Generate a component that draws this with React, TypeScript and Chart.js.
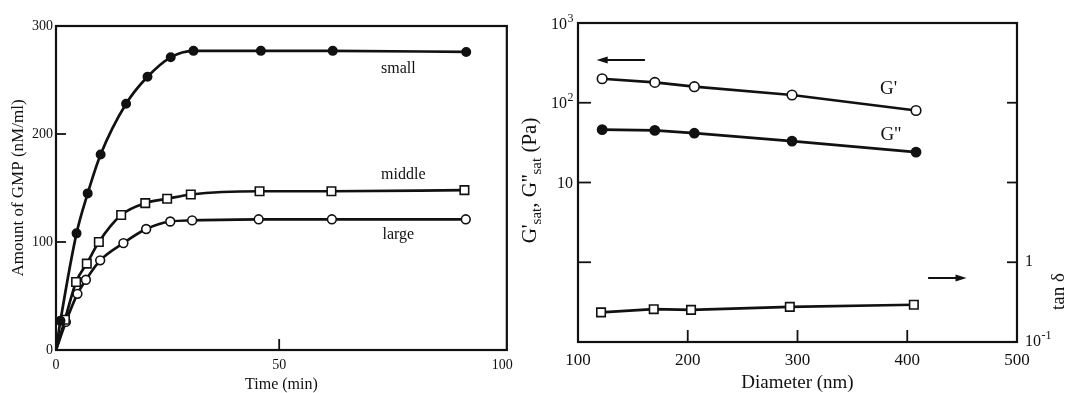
import React, { useEffect, useRef } from "react";
import { Chart, registerables } from "chart.js";

Chart.register(...registerables);

const FONT = "'Liberation Serif', 'Times New Roman', serif";
const INK = "#111";

// ---- Left panel: GMP released vs. time for three micelle sizes ----
const smallTime = [0, 1, 4.6, 7.1, 10, 15.7, 20.5, 25.7, 30.8, 45.9, 62, 91.9];
const smallGmp = [0, 27, 108, 145, 181, 228, 253, 271, 277, 277, 277, 276];
const middleTime = [0, 2, 4.5, 6.9, 9.6, 14.6, 20, 24.9, 30.2, 45.6, 61.7, 91.5];
const middleGmp = [0, 28, 63, 80, 100, 125, 136, 140, 144, 147, 147, 148];
const largeTime = [0, 2.2, 4.8, 6.7, 9.9, 15.1, 20.2, 25.6, 30.5, 45.4, 61.8, 91.8];
const largeGmp = [0, 26, 52, 65, 83, 99, 112, 119, 120, 121, 121, 121];
const seriesNames = ["small", "middle", "large"];
const timeTicks = [0, 50, 100];
const gmpTicks = [0, 100, 200, 300];

// ---- Right panel: saturated moduli and tan delta vs. diameter ----
const diameters = [122, 170, 206, 295, 408];
const gPrime = [200, 180, 159, 125, 80];
const gDoublePrime = [46, 45, 41.5, 33, 24];
const tanDiameters = [121, 169, 203, 293, 406];
const tanDelta = [0.235, 0.258, 0.253, 0.276, 0.293];
const diameterTicks = [100, 200, 300, 400, 500];
const modulusTicks = [0.1, 1, 10, 100, 1000];
const modulusLabels = [
  { value: 1000, base: "10", exp: "3" },
  { value: 100, base: "10", exp: "2" },
  { value: 10, base: "10", exp: "" },
];
const tanLabels = [
  { value: 1, base: "1", exp: "" },
  { value: 0.1, base: "10", exp: "-1" },
];

type Pt = { x: number; y: number };
const zip = (xs: number[], ys: number[]): Pt[] => xs.map((x, i) => ({ x, y: ys[i] }));

type TickMark = { scale: string; side: "bottom" | "left" | "right"; values: number[]; len: number };

// Draws the closed frame around the plot and inward-pointing tick marks.
function framePlugin(marks: TickMark[]) {
  return {
    id: "frame",
    afterDraw(chart: any) {
      const { ctx, chartArea: a } = chart;
      ctx.save();
      ctx.strokeStyle = INK;
      ctx.lineWidth = 2.2;
      ctx.strokeRect(a.left, a.top, a.right - a.left, a.bottom - a.top);
      ctx.lineWidth = 1.8;
      for (const m of marks) {
        const s = chart.scales[m.scale];
        for (const v of m.values) {
          const p = s.getPixelForValue(v);
          ctx.beginPath();
          if (m.side === "bottom") {
            ctx.moveTo(p, a.bottom);
            ctx.lineTo(p, a.bottom - m.len);
          } else if (m.side === "left") {
            ctx.moveTo(a.left, p);
            ctx.lineTo(a.left + m.len, p);
          } else {
            ctx.moveTo(a.right, p);
            ctx.lineTo(a.right - m.len, p);
          }
          ctx.stroke();
        }
      }
      ctx.restore();
    },
  };
}

type Note = { text: string; x: number; y: number; size: number };

function notesPlugin(notes: Note[], xId: string, yId: string) {
  return {
    id: "notes",
    afterDatasetsDraw(chart: any) {
      const { ctx } = chart;
      const xs = chart.scales[xId];
      const ys = chart.scales[yId];
      ctx.save();
      ctx.fillStyle = INK;
      ctx.textAlign = "center";
      ctx.textBaseline = "middle";
      for (const n of notes) {
        ctx.font = `${n.size}px ${FONT}`;
        ctx.fillText(n.text, xs.getPixelForValue(n.x), ys.getPixelForValue(n.y));
      }
      ctx.restore();
    },
  };
}

function drawPower(ctx: CanvasRenderingContext2D, base: string, exp: string, x: number, y: number, align: "left" | "right", size: number) {
  const supSize = Math.round(size * 0.72);
  ctx.font = `${size}px ${FONT}`;
  const wb = ctx.measureText(base).width;
  ctx.font = `${supSize}px ${FONT}`;
  const we = exp ? ctx.measureText(exp).width : 0;
  const x0 = align === "right" ? x - wb - we : x;
  ctx.textAlign = "left";
  ctx.textBaseline = "middle";
  ctx.font = `${size}px ${FONT}`;
  ctx.fillText(base, x0, y);
  if (exp) {
    ctx.font = `${supSize}px ${FONT}`;
    ctx.fillText(exp, x0 + wb + 0.5, y - size * 0.38);
  }
}

type Part = { t: string; sub?: boolean };

function drawRotated(ctx: CanvasRenderingContext2D, parts: Part[], cx: number, cy: number, size: number) {
  const subSize = Math.round(size * 0.72);
  const widths = parts.map((p) => {
    ctx.font = `${p.sub ? subSize : size}px ${FONT}`;
    return ctx.measureText(p.t).width;
  });
  const total = widths.reduce((s, w) => s + w, 0);
  ctx.save();
  ctx.translate(cx, cy);
  ctx.rotate(-Math.PI / 2);
  ctx.textAlign = "left";
  ctx.textBaseline = "middle";
  let x = -total / 2;
  parts.forEach((p, i) => {
    ctx.font = `${p.sub ? subSize : size}px ${FONT}`;
    ctx.fillText(p.t, x, p.sub ? size * 0.32 : 0);
    x += widths[i];
  });
  ctx.restore();
}

function drawArrow(ctx: CanvasRenderingContext2D, x1: number, y1: number, x2: number, y2: number) {
  const dir = Math.sign(x2 - x1);
  const head = 11;
  ctx.beginPath();
  ctx.moveTo(x1, y1);
  ctx.lineTo(x2 - dir * head * 0.6, y2);
  ctx.stroke();
  ctx.beginPath();
  ctx.moveTo(x2, y2);
  ctx.lineTo(x2 - dir * head, y2 - 3.5);
  ctx.lineTo(x2 - dir * head, y2 + 3.5);
  ctx.closePath();
  ctx.fill();
}

// Arrows pointing to the axis each group of curves belongs to (data coordinates).
const modulusArrow = { from: 161, to: 117, at: 344 };
const tanArrow = { from: 419, to: 454, at: 0.635 };

const rightDecor = {
  id: "rightDecor",
  afterDraw(chart: any) {
    const { ctx, chartArea: a } = chart;
    const x = chart.scales.x;
    const y = chart.scales.y;
    const y2 = chart.scales.y2;
    ctx.save();
    ctx.fillStyle = INK;
    ctx.strokeStyle = INK;
    for (const l of modulusLabels) drawPower(ctx, l.base, l.exp, a.left - 5, y.getPixelForValue(l.value) + 1.5, "right", 16);
    for (const l of tanLabels) drawPower(ctx, l.base, l.exp, a.right + 8, y2.getPixelForValue(l.value), "left", 16);
    drawRotated(
      ctx,
      [{ t: "G'" }, { t: "sat", sub: true }, { t: ", G''" }, { t: "sat", sub: true }, { t: " (Pa)" }],
      a.left - 48,
      (a.top + a.bottom) / 2 - 2,
      21
    );
    drawRotated(ctx, [{ t: "tan δ" }], a.right + 42, y2.getPixelForValue(0.43), 19);
    ctx.lineWidth = 2;
    drawArrow(ctx, x.getPixelForValue(modulusArrow.from), y.getPixelForValue(modulusArrow.at), x.getPixelForValue(modulusArrow.to), y.getPixelForValue(modulusArrow.at));
    drawArrow(ctx, x.getPixelForValue(tanArrow.from), y2.getPixelForValue(tanArrow.at), x.getPixelForValue(tanArrow.to), y2.getPixelForValue(tanArrow.at));
    ctx.restore();
  },
};

const hideFirst = (r: number) => (c: any) => (c.dataIndex === 0 ? 0 : r);

function leftConfig(): any {
  const base = {
    borderColor: INK,
    borderWidth: 2.7,
    pointBorderColor: INK,
    pointBorderWidth: 1.6,
    cubicInterpolationMode: "monotone",
  };
  return {
    type: "line",
    data: {
      datasets: [
        { ...base, label: seriesNames[0], data: zip(smallTime, smallGmp), pointStyle: "circle", pointRadius: hideFirst(4.2), pointBackgroundColor: INK },
        { ...base, label: seriesNames[1], data: zip(middleTime, middleGmp), pointStyle: "rect", pointRadius: hideFirst(6), pointBackgroundColor: "#fff" },
        { ...base, label: seriesNames[2], data: zip(largeTime, largeGmp), pointStyle: "circle", pointRadius: hideFirst(4.4), pointBackgroundColor: "#fff" },
      ],
    },
    options: {
      responsive: false,
      animation: false,
      layout: { padding: { top: 26, right: 13, left: 0, bottom: 0 } },
      plugins: { legend: { display: false }, tooltip: { enabled: false } },
      scales: {
        x: {
          type: "linear",
          min: 0,
          max: 101,
          afterBuildTicks: (s: any) => {
            s.ticks = timeTicks.map((v) => ({ value: v }));
          },
          afterFit: (s: any) => {
            s.height = 43;
          },
          grid: { display: false, drawTicks: false },
          border: { display: false },
          ticks: { color: INK, font: { family: FONT, size: 14 }, padding: 7, maxRotation: 0, autoSkip: false },
          title: { display: true, text: "Time (min)", color: INK, font: { family: FONT, size: 16, lineHeight: 1 }, padding: 0 },
        },
        y: {
          type: "linear",
          min: 0,
          max: 300,
          afterBuildTicks: (s: any) => {
            s.ticks = gmpTicks.map((v) => ({ value: v }));
          },
          afterFit: (s: any) => {
            s.width = 56;
          },
          grid: { display: false, drawTicks: false },
          border: { display: false },
          ticks: { color: INK, font: { family: FONT, size: 14 }, padding: 3 },
          title: { display: true, text: "Amount of GMP (nM/ml)", color: INK, font: { family: FONT, size: 17, lineHeight: 1 }, padding: { top: 10, bottom: 0 } },
        },
      },
    },
    plugins: [
      framePlugin([
        { scale: "x", side: "bottom", values: [50], len: 11 },
        { scale: "y", side: "left", values: [100, 200], len: 10 },
      ]),
      notesPlugin(
        [
          { text: seriesNames[0], x: 76.7, y: 260, size: 16 },
          { text: seriesNames[1], x: 77.8, y: 162, size: 16 },
          { text: seriesNames[2], x: 76.7, y: 107, size: 16 },
        ],
        "x",
        "y"
      ),
    ],
  };
}

function rightConfig(): any {
  const base = {
    borderColor: INK,
    borderWidth: 2.7,
    pointBorderColor: INK,
    pointBorderWidth: 1.6,
    tension: 0,
  };
  const hiddenLog = (width: number, position: string) => ({
    type: "logarithmic",
    position,
    min: 0.1,
    max: 1000,
    afterBuildTicks: (s: any) => {
      s.ticks = modulusTicks.map((v) => ({ value: v }));
    },
    afterFit: (s: any) => {
      s.width = width;
    },
    grid: { display: false, drawTicks: false },
    border: { display: false },
    ticks: { display: false },
  });
  return {
    type: "line",
    data: {
      datasets: [
        { ...base, label: "G'", yAxisID: "y", data: zip(diameters, gPrime), pointStyle: "circle", pointRadius: 4.8, pointBackgroundColor: "#fff" },
        { ...base, label: "G''", yAxisID: "y", data: zip(diameters, gDoublePrime), pointStyle: "circle", pointRadius: 4.6, pointBackgroundColor: INK },
        { ...base, label: "tan δ", yAxisID: "y2", data: zip(tanDiameters, tanDelta), pointStyle: "rect", pointRadius: 6, pointBackgroundColor: "#fff" },
      ],
    },
    options: {
      responsive: false,
      animation: false,
      layout: { padding: { top: 23, right: 0, left: 0, bottom: 0 } },
      plugins: { legend: { display: false }, tooltip: { enabled: false } },
      scales: {
        x: {
          type: "linear",
          min: 100,
          max: 500,
          afterBuildTicks: (s: any) => {
            s.ticks = diameterTicks.map((v) => ({ value: v }));
          },
          afterFit: (s: any) => {
            s.height = 51;
          },
          grid: { display: false, drawTicks: false },
          border: { display: false },
          ticks: { color: INK, font: { family: FONT, size: 17 }, padding: 8, maxRotation: 0, autoSkip: false },
          title: { display: true, text: "Diameter (nm)", color: INK, font: { family: FONT, size: 19, lineHeight: 1 }, padding: 0 },
        },
        y: hiddenLog(58, "left"),
        y2: hiddenLog(51, "right"),
      },
    },
    plugins: [
      framePlugin([
        { scale: "x", side: "bottom", values: [200, 300, 400], len: 12 },
        { scale: "y", side: "left", values: [1, 10, 100], len: 13 },
        { scale: "y2", side: "right", values: [1, 10, 100], len: 10 },
      ]),
      notesPlugin(
        [
          { text: "G'", x: 383, y: 149, size: 19 },
          { text: "G''", x: 385, y: 39, size: 19 },
        ],
        "x",
        "y"
      ),
      rightDecor,
    ],
  };
}

export default function App() {
  const leftRef = useRef<HTMLCanvasElement>(null);
  const rightRef = useRef<HTMLCanvasElement>(null);

  useEffect(() => {
    const left = new Chart(leftRef.current!, leftConfig());
    const right = new Chart(rightRef.current!, rightConfig());
    return () => {
      left.destroy();
      right.destroy();
    };
  }, []);

  return (
    <div style={{ position: "absolute", left: 0, top: 0, width: 1068, height: 393, background: "#fff" }}>
      <canvas ref={leftRef} width={520} height={393} style={{ position: "absolute", left: 0, top: 0, width: 520, height: 393 }} />
      <canvas ref={rightRef} width={548} height={393} style={{ position: "absolute", left: 520, top: 0, width: 548, height: 393 }} />
    </div>
  );
}
